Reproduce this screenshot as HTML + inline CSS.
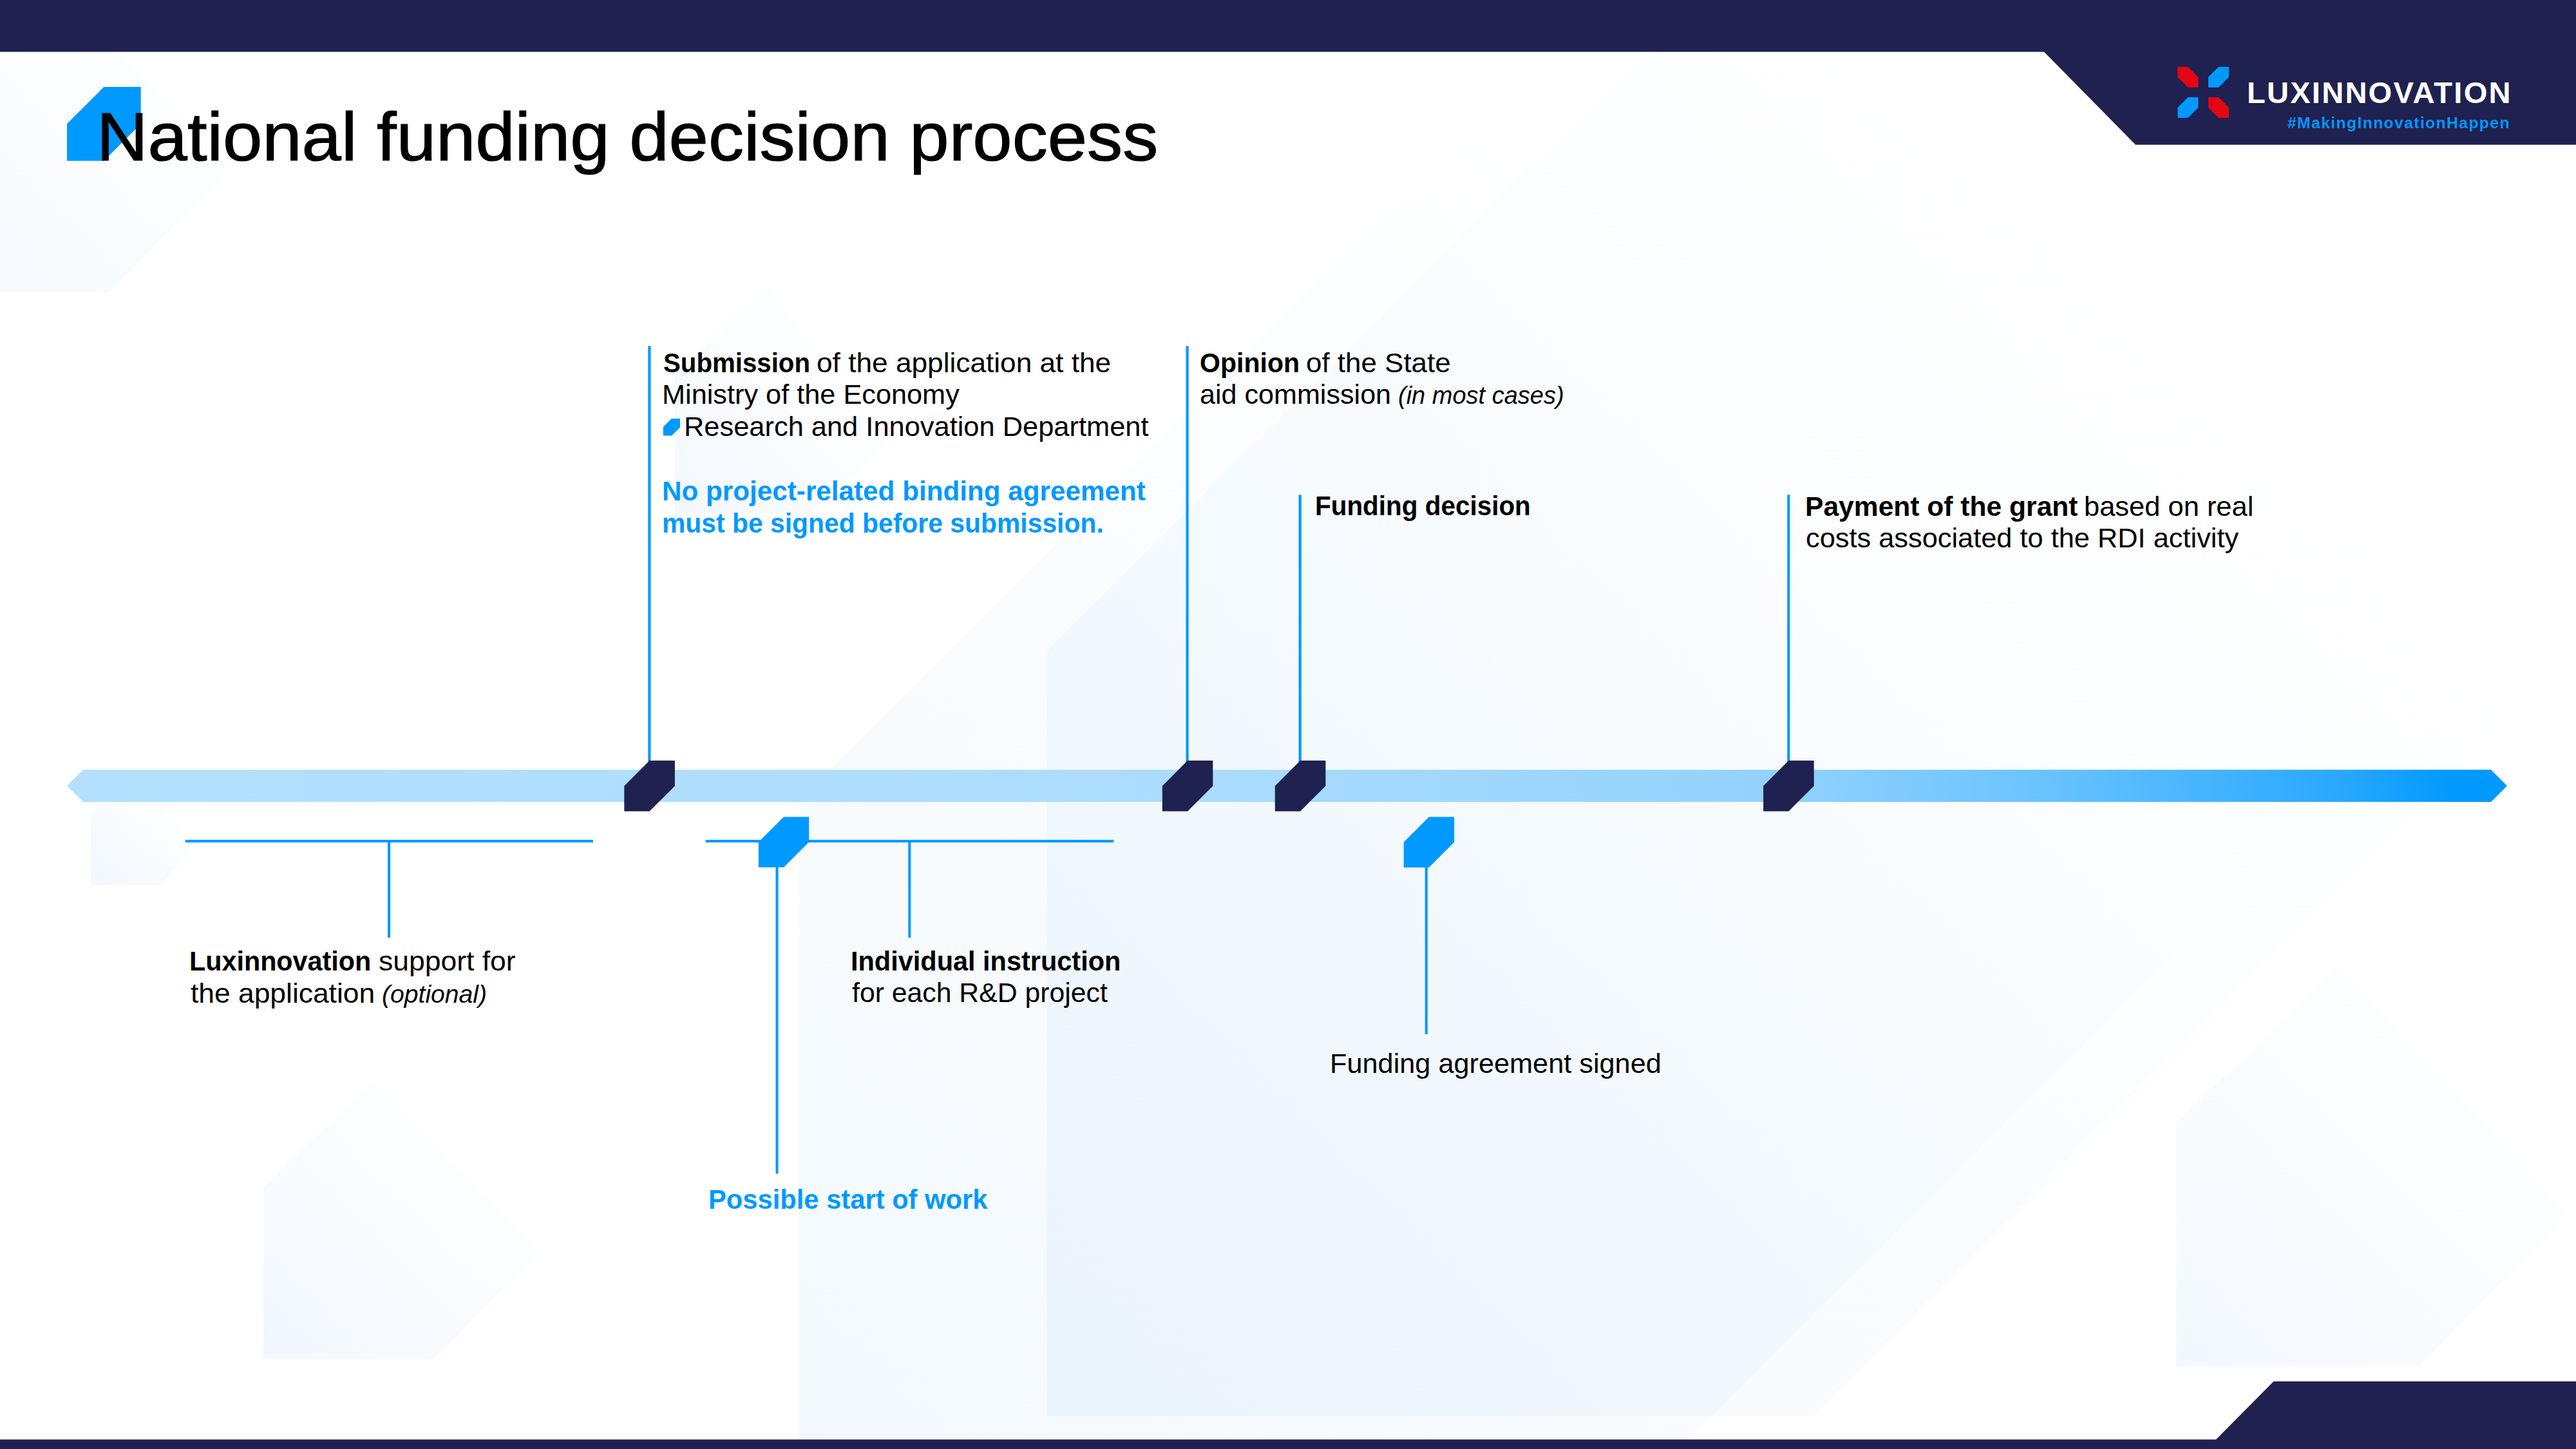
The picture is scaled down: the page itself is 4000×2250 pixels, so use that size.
<!DOCTYPE html>
<html><head><meta charset="utf-8"><title>National funding decision process</title>
<style>
html,body{margin:0;padding:0;background:#fff;width:4000px;height:2250px;overflow:hidden}
.page{position:relative;width:4000px;height:2250px;overflow:hidden;background:#fff;font-family:"Liberation Sans",sans-serif}
.t{position:absolute;white-space:nowrap;line-height:1;transform-origin:0 0}
#title{-webkit-text-stroke:1.2px #000}
</style></head><body>
<div class="page">
<svg width="4000" height="2250" viewBox="0 0 4000 2250" style="position:absolute;left:0;top:0">
<defs><linearGradient id="gs2" gradientUnits="userSpaceOnUse" x1="1241" y1="2429" x2="3613" y2="57"><stop offset="0" stop-color="#3c9be8" stop-opacity="0.065"/><stop offset="0.72" stop-color="#3c9be8" stop-opacity="0.0"/></linearGradient><linearGradient id="gs3" gradientUnits="userSpaceOnUse" x1="1626" y1="2199" x2="4002" y2="-177"><stop offset="0" stop-color="#3c9be8" stop-opacity="0.06"/><stop offset="0.74" stop-color="#3c9be8" stop-opacity="0.0"/></linearGradient><linearGradient id="gp0" gradientUnits="userSpaceOnUse" x1="-120" y1="453.4" x2="220.2" y2="113.2"><stop offset="0" stop-color="#1e82e6" stop-opacity="0.05"/><stop offset="1" stop-color="#1e82e6" stop-opacity="0.008"/></linearGradient><linearGradient id="gp1" gradientUnits="userSpaceOnUse" x1="1048" y1="796" x2="1268.0" y2="576.0"><stop offset="0" stop-color="#1e82e6" stop-opacity="0.055"/><stop offset="1" stop-color="#1e82e6" stop-opacity="0.01"/></linearGradient><linearGradient id="gp4" gradientUnits="userSpaceOnUse" x1="141" y1="1374.6" x2="256.8" y2="1258.8"><stop offset="0" stop-color="#1e82e6" stop-opacity="0.06"/><stop offset="1" stop-color="#1e82e6" stop-opacity="0.01"/></linearGradient><linearGradient id="gp5" gradientUnits="userSpaceOnUse" x1="409" y1="2110" x2="708.0" y2="1811.0"><stop offset="0" stop-color="#1e82e6" stop-opacity="0.06"/><stop offset="1" stop-color="#1e82e6" stop-opacity="0.01"/></linearGradient><linearGradient id="gp6" gradientUnits="userSpaceOnUse" x1="3379.2" y1="2121.4" x2="3801.3" y2="1699.3"><stop offset="0" stop-color="#1e82e6" stop-opacity="0.055"/><stop offset="1" stop-color="#1e82e6" stop-opacity="0.01"/></linearGradient><linearGradient id="bar" gradientUnits="userSpaceOnUse" x1="104" y1="0" x2="3893" y2="0"><stop offset="0" stop-color="#b3e0fd"/><stop offset="0.45" stop-color="#acdcfd"/><stop offset="0.70" stop-color="#93d2fd"/><stop offset="0.81" stop-color="#6ac3fe"/><stop offset="0.93" stop-color="#2aa8ff"/><stop offset="0.98" stop-color="#0099ff"/><stop offset="1" stop-color="#0099ff"/></linearGradient></defs>
<polygon points="1241,2429 1241,1243.0 2427.0,57 3613,57 3613,1243.0 2427.0,2429" fill="url(#gs2)"/>
<polygon points="1626,2199 1626,1011.0 2814.0,-177 4002,-177 4002,1011.0 2814.0,2199" fill="url(#gs3)"/>
<polygon points="0,453.4 170,453.4 364,257 181,80 0,80" fill="url(#gp0)"/>
<polygon points="1048,796 1048,582 1192,442 1378,686 1262,796" fill="url(#gp1)"/>
<polygon points="141,1374.6 141,1267.7 207,1201 310,1312 248.5,1374.6" fill="url(#gp4)"/>
<polygon points="409,2110 409,1845 580,1676 840,1943 674,2110" fill="url(#gp5)"/>
<polygon points="3379.2,2121.4 3379.2,1744.4 3631.4,1498.4 3988.8,1886.8 3755.7,2121.4" fill="url(#gp6)"/>
<polygon points="0,0 4000,0 4000,224.7 3316,224.7 3174,80.5 0,80.5" fill="#1f2150"/>
<polygon points="0,2235.3 3441,2235.3 3530.5,2145 4000,2145 4000,2250 0,2250" fill="#1f2150"/>
<polygon points="161.35,135 218.7,135 218.7,192.35 161.35,249.7 104,249.7 104,192.35" fill="#0099ff"/>
<polygon points="3381.5,103.8 3397.5,103.8 3413.5,119.8 3413.5,135.8 3397.5,135.8 3381.5,119.8" fill="#e30613"/>
<polygon points="3445.0,103.8 3461,103.8 3461,119.8 3445.0,135.8 3429,135.8 3429,119.8" fill="#0099ff"/>
<polygon points="3397.5,151 3413.5,151 3413.5,167.0 3397.5,183 3381.5,183 3381.5,167.0" fill="#0099ff"/>
<polygon points="3429,151 3445.0,151 3461,167.0 3461,183 3445.0,183 3429,167.0" fill="#e30613"/>
<polygon points="104,1220.3 129,1195.2 3868,1195.2 3893,1220.3 3868,1245.3 129,1245.3" fill="url(#bar)"/>
<rect x="1006.3" y="537.2" width="4.2" height="652.8" fill="#0099ff"/>
<rect x="1841.5" y="537.3" width="4.2" height="652.7" fill="#0099ff"/>
<rect x="2016.6" y="768.3" width="4.2" height="421.70000000000005" fill="#0099ff"/>
<rect x="2775.2" y="768.3" width="4.2" height="421.70000000000005" fill="#0099ff"/>
<rect x="287.7" y="1304.1" width="633.3" height="4.1" fill="#0099ff"/>
<rect x="602" y="1306" width="4.1" height="150" fill="#0099ff"/>
<rect x="1095.6" y="1304.1" width="633.6" height="4.1" fill="#0099ff"/>
<rect x="1410.3" y="1306" width="4.1" height="150" fill="#0099ff"/>
<rect x="1204.5" y="1340" width="4.1" height="482.5" fill="#0099ff"/>
<rect x="2212.7" y="1340" width="4.1" height="265.70000000000005" fill="#0099ff"/>
<polygon points="1008.5999999999999,1181.1 1047.8999999999999,1181.1 1047.8999999999999,1220.3999999999999 1008.5999999999999,1259.6999999999998 969.3,1259.6999999999998 969.3,1220.3999999999999" fill="#1f2150"/>
<polygon points="1844.1,1181.1 1883.3999999999999,1181.1 1883.3999999999999,1220.3999999999999 1844.1,1259.6999999999998 1804.8,1259.6999999999998 1804.8,1220.3999999999999" fill="#1f2150"/>
<polygon points="2019.1,1181.1 2058.4,1181.1 2058.4,1220.3999999999999 2019.1000000000001,1259.6999999999998 1979.8,1259.6999999999998 1979.8,1220.3999999999999" fill="#1f2150"/>
<polygon points="2777.4,1181.1 2816.7,1181.1 2816.7,1220.3999999999999 2777.3999999999996,1259.6999999999998 2738.1,1259.6999999999998 2738.1,1220.3999999999999" fill="#1f2150"/>
<polygon points="1217.0,1268.4 1256.2,1268.4 1256.2,1307.6000000000001 1217.0,1346.8000000000002 1177.8,1346.8000000000002 1177.8,1307.6000000000001" fill="#0099ff"/>
<polygon points="2218.8999999999996,1268.5 2258.1,1268.5 2258.1,1307.7 2218.9,1346.9 2179.7,1346.9 2179.7,1307.7" fill="#0099ff"/>
<polygon points="1042.8,650 1056.0,650 1056.0,663.5 1043.0,676.5 1029.8,676.5 1029.8,663" fill="#0099ff"/>
</svg>
<div class="t" id="title" style="left:150.1px;top:160.47px;font-size:105.5px;color:#000;transform:scaleX(1.0448)">National funding decision process</div>
<div class="t" style="left:3488.7px;top:119.72px;font-size:47.1px;color:#fff;transform:scaleX(1.0007)"><b style="letter-spacing:2.2px">LUXINNOVATION</b></div>
<div class="t" style="left:3551.5px;top:179.73px;font-size:23.7px;color:#0099ff;transform:scaleX(1.0441)"><b style="letter-spacing:1.3px">#MakingInnovationHappen</b></div>
<div class="t" style="left:1029.65px;top:542.7px;font-size:42.4px;color:#000;transform:scaleX(0.9489)"><b>Submission</b></div>
<div class="t" style="left:1268.31px;top:542.7px;font-size:42.4px;color:#000;transform:scaleX(1.0428)">of the application at the</div>
<div class="t" style="left:1027.54px;top:592.1px;font-size:42.4px;color:#000;transform:scaleX(1.0209)">Ministry of the Economy</div>
<div class="t" style="left:1061.73px;top:642.1px;font-size:42.4px;color:#000;transform:scaleX(1.024)">Research and Innovation Department</div>
<div class="t" style="left:1027.61px;top:741.7px;font-size:42.4px;color:#0099ff;transform:scaleX(0.9963)"><b>No project-related binding agreement</b></div>
<div class="t" style="left:1027.71px;top:792.1px;font-size:42.4px;color:#0099ff;transform:scaleX(0.964)"><b>must be signed before submission.</b></div>
<div class="t" style="left:1862.96px;top:542.6px;font-size:42.4px;color:#000;transform:scaleX(0.9686)"><b>Opinion</b></div>
<div class="t" style="left:2028.43px;top:542.6px;font-size:42.4px;color:#000;transform:scaleX(1.0362)">of the State</div>
<div class="t" style="left:1862.87px;top:591.9px;font-size:42.4px;color:#000;transform:scaleX(1.017)">aid commission</div>
<div class="t" style="left:2171.01px;top:591.9px;font-size:42.4px;color:#000;transform:scaleX(0.9957)"><i style="font-size:0.9em">(in most cases)</i></div>
<div class="t" style="left:2041.74px;top:765.0px;font-size:42.4px;color:#000;transform:scaleX(0.9542)"><b>Funding decision</b></div>
<div class="t" style="left:2802.69px;top:765.7px;font-size:42.4px;color:#000;transform:scaleX(1.0045)"><b>Payment of the grant</b></div>
<div class="t" style="left:3236.42px;top:765.7px;font-size:42.4px;color:#000;transform:scaleX(1.0251)">based on real</div>
<div class="t" style="left:2803.65px;top:815.3px;font-size:42.4px;color:#000;transform:scaleX(1.0226)">costs associated to the RDI activity</div>
<div class="t" style="left:294.48px;top:1471.9px;font-size:42.4px;color:#000;transform:scaleX(0.9743)"><b>Luxinnovation</b></div>
<div class="t" style="left:587.65px;top:1471.9px;font-size:42.4px;color:#000;transform:scaleX(1.0493)">support for</div>
<div class="t" style="left:295.65px;top:1521.8px;font-size:42.4px;color:#000;transform:scaleX(1.0467)">the application</div>
<div class="t" style="left:592.55px;top:1521.8px;font-size:42.4px;color:#000;transform:scaleX(1.0252)"><i style="font-size:0.9em">(optional)</i></div>
<div class="t" style="left:1321.47px;top:1471.9px;font-size:42.4px;color:#000;transform:scaleX(0.9783)"><b>Individual instruction</b></div>
<div class="t" style="left:1322.69px;top:1521.3px;font-size:42.4px;color:#000;transform:scaleX(1.0084)">for each R&amp;D project</div>
<div class="t" style="left:1099.75px;top:1841.9px;font-size:42.4px;color:#0099ff;transform:scaleX(0.984)"><b>Possible start of work</b></div>
<div class="t" style="left:2064.54px;top:1630.6px;font-size:42.4px;color:#000;transform:scaleX(1.0208)">Funding agreement signed</div>
</div>
</body></html>
